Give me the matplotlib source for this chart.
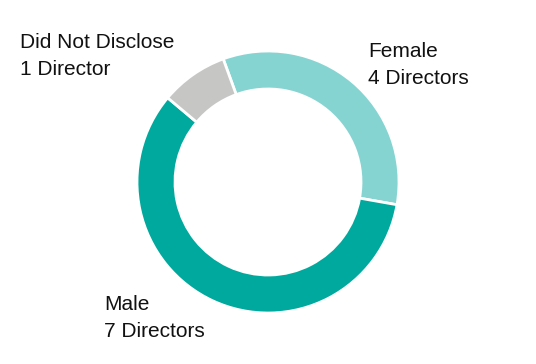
import matplotlib
matplotlib.use('Agg')
import matplotlib.pyplot as plt

# Board composition by gender
labels = ['Female', 'Male', 'Did Not Disclose']
counts = [4, 7, 1]
captions = ['Female\n4 Directors', 'Male\n7 Directors', 'Did Not Disclose\n1 Director']
colors = ['#86D4D2', '#00A99D', '#C6C7C5']

plt.rcParams['font.family'] = ['Liberation Sans', 'DejaVu Sans']

W, H = 536, 364
fig = plt.figure(figsize=(W / 100, H / 100), dpi=100)
ax = fig.add_axes([0, 0, 1, 1])

ax.pie(counts, colors=colors, startangle=110, counterclock=False,
       center=(268, H - 182), radius=131,
       wedgeprops=dict(width=38, edgecolor='white', linewidth=2))

# pie() resets the limits, so set them afterwards
ax.set_xlim(0, W)
ax.set_ylim(0, H)
ax.set_aspect('equal')
ax.axis('off')

# label positions (left x, first baseline y in pixels from the top)
pos = [(368, 57), (104, 310), (20, 48)]
pitch = 27
for (x, y), txt in zip(pos, captions):
    for i, line in enumerate(txt.split('\n')):
        ax.text(x, H - (y + i * pitch), line, fontsize=15, color='#111111',
                ha='left', va='baseline')

fig.savefig('out.png', dpi=100)
